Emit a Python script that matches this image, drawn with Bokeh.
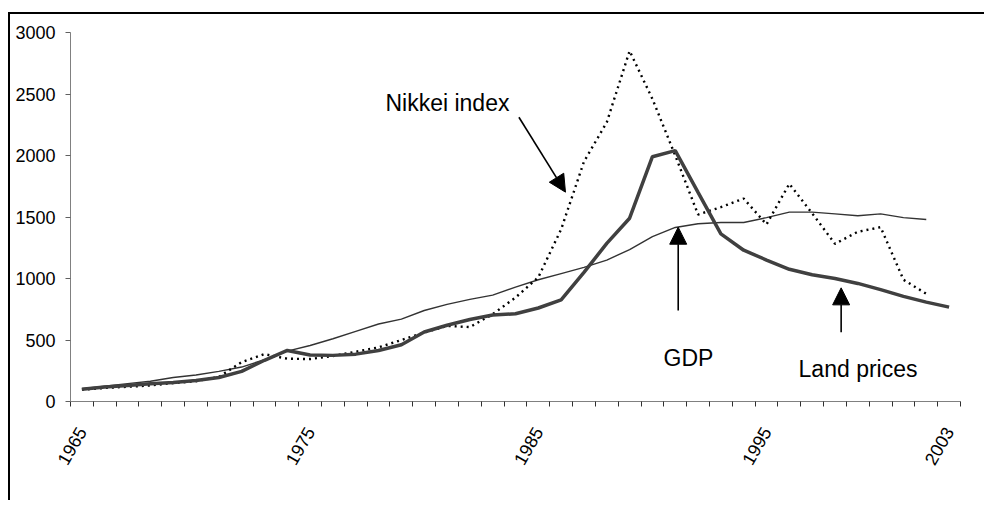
import math
from bokeh.plotting import figure
from bokeh.models import Range1d, FixedTicker, Label, Arrow, NormalHead
from bokeh.embed import file_html
from bokeh.resources import INLINE

# ---- data ----
years_land = list(range(1965, 2004))
years_gdp = list(range(1965, 2003))
years_nikkei = list(range(1965, 2003))

land = [100, 118, 130, 145, 155, 170, 195, 245, 335, 415,
        378, 375, 385, 415, 461, 565, 620, 667, 703, 713,
        760, 827, 1050, 1285, 1490, 1990, 2040, 1700, 1363, 1230,
        1150, 1075, 1030, 1000, 960, 910, 855, 808, 767]

gdp = [105, 125, 145, 165, 195, 215, 245, 280, 340, 410,
       455, 510, 570, 630, 670, 740, 790, 830, 865, 930,
       990, 1040, 1090, 1150, 1235, 1340, 1415, 1445, 1455, 1455,
       1495, 1540, 1540, 1525, 1510, 1525, 1495, 1480]

nikkei = [95, 110, 120, 130, 150, 165, 200, 320, 385, 348,
          345, 370, 405, 440, 500, 560, 615, 605, 710, 845,
          1010, 1400, 1950, 2270, 2850, 2460, 2000, 1520, 1580, 1650,
          1440, 1770, 1530, 1282, 1380, 1417, 990, 876]

label_years = [1965, 1975, 1985, 1995, 2003]
y_ticks = [0, 500, 1000, 1500, 2000, 2500, 3000]

FONT = "Liberation Sans"

p = figure(width=976, height=488, output_backend="svg", toolbar_location=None,
           x_range=Range1d(1964.5, 2003.5), y_range=Range1d(0, 3000),
           min_border_left=60, min_border_top=18, min_border_right=26,
           min_border_bottom=101)
# outer chart frame: only its top and left edges are inside the picture
p.styles = {"border-top": "2px solid #000000", "border-left": "2px solid #000000",
            "margin-top": "12px", "margin-left": "8px"}
p.outline_line_color = None
p.xgrid.visible = False
p.ygrid.visible = False
p.background_fill_color = "white"
p.border_fill_color = "white"

# axes
xa = p.xaxis[0]
xa.ticker = FixedTicker(ticks=label_years,
                        minor_ticks=[y - 0.5 for y in years_land] + [years_land[-1] + 0.5])
xa.major_tick_out = 0
xa.major_tick_in = 0
xa.minor_tick_out = 5
xa.minor_tick_in = 0
xa.minor_tick_line_color = "#303030"
xa.axis_line_color = "#808080"
xa.major_label_orientation = math.pi / 3
xa.major_label_text_font = FONT
xa.major_label_text_font_size = "18px"
xa.major_label_text_color = "black"
xa.major_label_standoff = 22

ya = p.yaxis[0]
ya.ticker = FixedTicker(ticks=y_ticks)
ya.major_tick_out = 5
ya.major_tick_in = 0
ya.minor_tick_out = 0
ya.minor_tick_in = 0
ya.major_tick_line_color = "#606060"
ya.axis_line_color = "#808080"
ya.major_label_text_font = FONT
ya.major_label_text_font_size = "18px"
ya.major_label_text_color = "black"
ya.major_label_standoff = 10

# series
p.line(years_gdp, gdp, line_color="#333333", line_width=1.4)
p.line(years_nikkei, nikkei, line_color="black", line_width=2.4, line_dash="2 4")
p.line(years_land, land, line_color="#404040", line_width=3.5)

# annotations
p.add_layout(Label(x=1978.3, y=2428, text="Nikkei index", text_font=FONT,
                   text_font_size="23px", text_align="left",
                   text_baseline="alphabetic", text_color="black"))
p.add_layout(Label(x=1991.58, y=350, text="GDP", text_font=FONT,
                   text_font_size="23px", text_align="center",
                   text_baseline="alphabetic", text_color="black"))
p.add_layout(Label(x=1999.01, y=268, text="Land prices", text_font=FONT,
                   text_font_size="23px", text_align="center",
                   text_baseline="alphabetic", text_color="black"))

def arrow(x0, y0, x1, y1):
    p.add_layout(Arrow(end=NormalHead(size=17, fill_color="black", line_color="black"),
                       x_start=x0, y_start=y0, x_end=x1, y_end=y1,
                       line_color="black", line_width=1.6))

arrow(1984.15, 2311, 1986.19, 1702)
arrow(1991.13, 740, 1991.13, 1417)
arrow(1998.27, 563, 1998.27, 924)

open("out.html", "w").write(file_html(p, INLINE))
